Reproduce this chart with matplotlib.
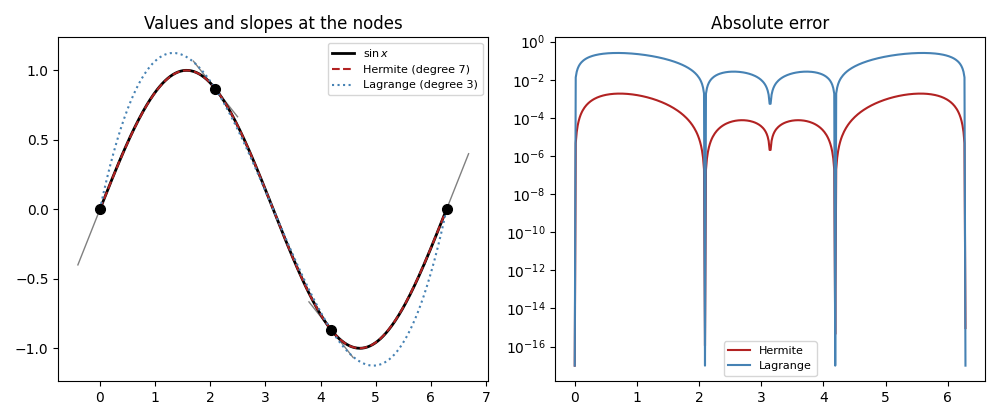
import numpy as np
import matplotlib
matplotlib.use("Agg")
import matplotlib.pyplot as plt

# Interpolation nodes and data (sin x, values and slopes)
nodes = np.array([0.0, 2*np.pi/3, 4*np.pi/3, 2*np.pi])
node_vals = np.sin(nodes)
node_slopes = np.cos(nodes)
tangent_half = 0.4
n_grid = 400
err_floor = 1e-17

def hermite_poly(xn, yn, dn):
    # Newton divided differences with doubled nodes
    z = np.repeat(xn, 2)
    n = len(z)
    Q = np.zeros((n, n))
    Q[:, 0] = np.repeat(yn, 2)
    for i in range(1, n):
        if i % 2 == 1:
            Q[i, 1] = dn[i // 2]
        else:
            Q[i, 1] = (Q[i, 0] - Q[i-1, 0]) / (z[i] - z[i-1])
    for j in range(2, n):
        for i in range(j, n):
            Q[i, j] = (Q[i, j-1] - Q[i-1, j-1]) / (z[i] - z[i-j])
    coef = np.diag(Q)
    def f(x):
        x = np.asarray(x, float)
        r = np.full_like(x, coef[-1])
        for k in range(n-2, -1, -1):
            r = r * (x - z[k]) + coef[k]
        return r
    return f

def lagrange_poly(xn, yn):
    def f(x):
        x = np.asarray(x, float)
        r = np.zeros_like(x)
        for i in range(len(xn)):
            L = np.ones_like(x)
            for j in range(len(xn)):
                if j != i:
                    L *= (x - xn[j]) / (xn[i] - xn[j])
            r += yn[i] * L
        return r
    return f

H = hermite_poly(nodes, node_vals, node_slopes)
Lg = lagrange_poly(nodes, node_vals)

x = np.linspace(nodes[0], nodes[-1], n_grid)
y = np.sin(x)
yh = H(x)
yl = Lg(x)

fig, (ax1, ax2) = plt.subplots(1, 2, figsize=(10, 4.2), dpi=100)

for xi, yi, di in zip(nodes, node_vals, node_slopes):
    tx = np.array([xi - tangent_half, xi + tangent_half])
    ax1.plot(tx, yi + di * (tx - xi), color="gray", lw=1)
ax1.plot(x, y, color="black", lw=2, label=r"$\sin x$")
ax1.plot(x, yh, color="#b22222", lw=1.5, ls="--", label="Hermite (degree 7)")
ax1.plot(x, yl, color="#4682b4", lw=1.5, ls=":", label="Lagrange (degree 3)")
ax1.plot(nodes, node_vals, "o", color="black", ms=7, zorder=5)
ax1.set_title("Values and slopes at the nodes")
ax1.legend(fontsize=8, loc="upper right")

ax2.semilogy(x, np.maximum(np.abs(yh - y), err_floor), color="#b22222", lw=1.5, label="Hermite")
ax2.semilogy(x, np.maximum(np.abs(yl - y), err_floor), color="#4682b4", lw=1.5, label="Lagrange")
ax2.set_title("Absolute error")
ax2.legend(fontsize=8, loc="lower center")

fig.tight_layout()
fig.savefig("out.png")
